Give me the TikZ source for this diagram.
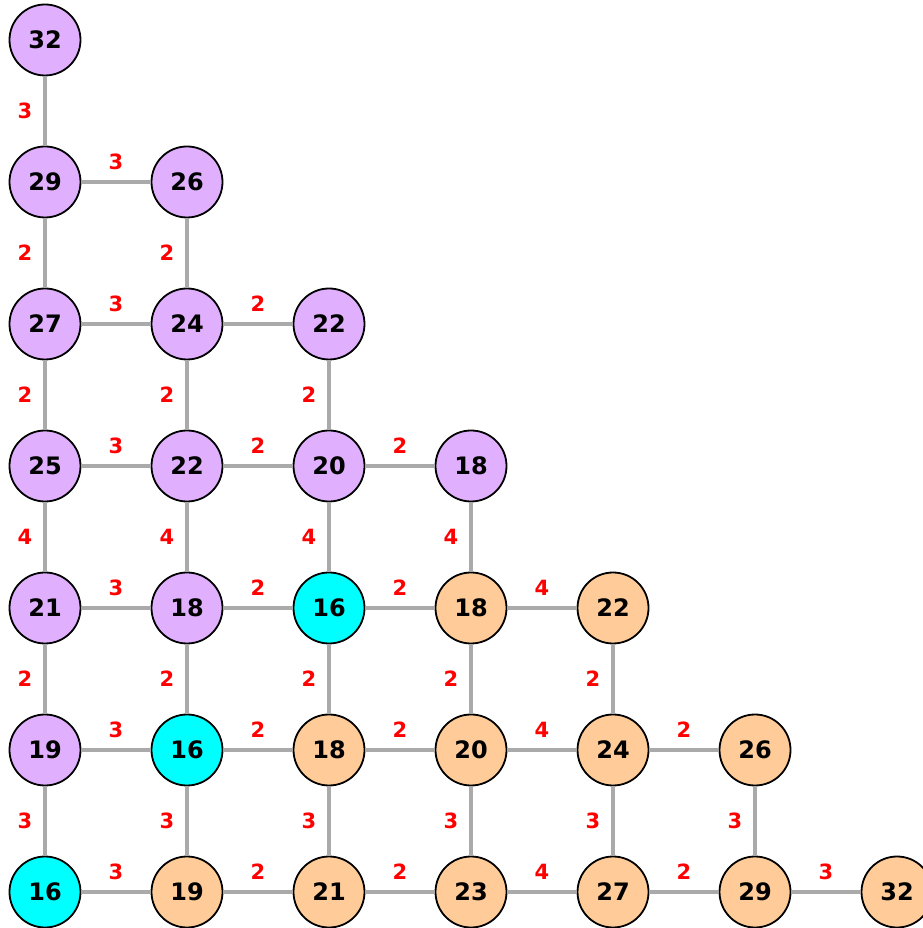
\documentclass[tikz,border=0pt]{standalone}
\usepackage{fontspec}
\setmainfont{DejaVu Sans}
\definecolor{mauve}{HTML}{E0B0FF}
\definecolor{peach}{HTML}{FFCC99}
\definecolor{aqua}{HTML}{00FFFF}
\definecolor{edgegray}{HTML}{AAAAAA}
\begin{document}
\begin{tikzpicture}[x=71pt, y=71pt,
		vtx/.style={circle, draw=black, line width=0.9pt, minimum size=35.5pt, inner sep=0pt, font=\fontsize{12}{12}\selectfont\bfseries},
		wgt/.style={text=red, font=\fontsize{10.5}{10.5}\selectfont\bfseries},
		link/.style={edgegray, line width=1.6pt}]
		\useasboundingbox (-0.3169,-0.2535) rectangle (6.1761,6.2817);
		%upper part
		\foreach \c/\r/\v in {0/6/32, 0/5/29, 1/5/26, 0/4/27, 1/4/24, 2/4/22, 0/3/25, 1/3/22, 2/3/20, 3/3/18, 0/2/21, 1/2/18, 0/1/19}{
			\node[vtx, fill=mauve] (v\c\r) at (\c,\r) {\v};
		}
		%lower part
		\foreach \c/\r/\v in {3/2/18, 4/2/22, 2/1/18, 3/1/20, 4/1/24, 5/1/26, 1/0/19, 2/0/21, 3/0/23, 4/0/27, 5/0/29, 6/0/32}{
			\node[vtx, fill=peach] (v\c\r) at (\c,\r) {\v};
		}
		%sources
		\foreach \c/\r in {2/2, 1/1, 0/0}{
			\node[vtx, fill=aqua] (v\c\r) at (\c,\r) {16};
		}
		
		%vertical edges
		\foreach \a/\b/\w in {06/05/3, 05/04/2, 04/03/2, 03/02/4, 02/01/2, 01/00/3, 15/14/2, 14/13/2, 13/12/4, 12/11/2, 11/10/3, 24/23/2, 23/22/4, 22/21/2, 21/20/3, 33/32/4, 32/31/2, 31/30/3, 42/41/2, 41/40/3, 51/50/3}{
			\draw[link] (v\a) -- (v\b) node[wgt, midway, xshift=-10pt]{\w};
		}
		%horizontal edges
		\foreach \a/\b/\w in {05/15/3, 04/14/3, 14/24/2, 03/13/3, 13/23/2, 23/33/2, 02/12/3, 12/22/2, 22/32/2, 32/42/4, 01/11/3, 11/21/2, 21/31/2, 31/41/4, 41/51/2, 00/10/3, 10/20/2, 20/30/2, 30/40/4, 40/50/2, 50/60/3}{
			\draw[link] (v\a) -- (v\b) node[wgt, midway, yshift=10pt]{\w};
		}
\end{tikzpicture}
\end{document}
